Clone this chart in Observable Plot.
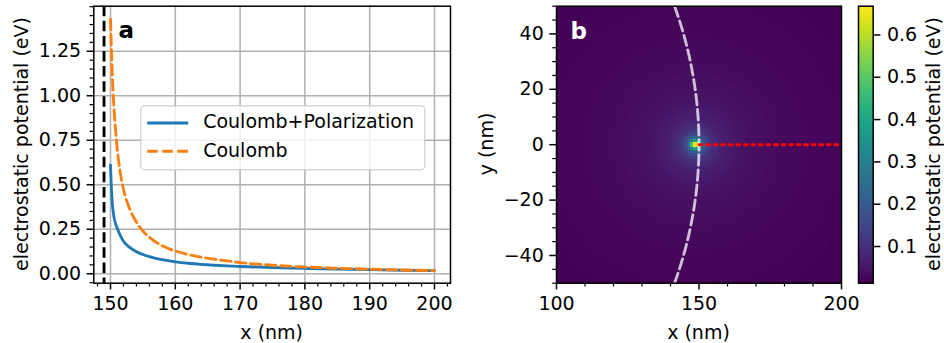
<!DOCTYPE html>
<html><head><meta charset="utf-8">
<script src="https://cdn.jsdelivr.net/npm/d3@7"></script>
<script src="https://cdn.jsdelivr.net/npm/@observablehq/plot@0.6"></script>
<style>
body{margin:0;background:#fff;font-family:"DejaVu Sans",sans-serif;}
#wrap{position:relative;width:944px;height:343px;overflow:hidden;background:#fff;}
#wrap > svg, #wrap > div{position:absolute;}
.lab{position:absolute;font-size:19px;white-space:nowrap;color:#000;line-height:1.16;font-family:"DejaVu Sans";}
</style></head><body><div id="wrap"></div>
<script>
// ---- Panel a: potential along the red line ----
const xPos = [150, 150.1, 150.25, 150.5, 150.75, 151, 151.5, 152, 153, 154, 155, 156, 157, 158, 160, 162, 164, 166, 168, 170, 175, 180, 185, 190, 195, 200];
const coulombPol = [0.61, 0.51, 0.41, 0.325, 0.285, 0.26, 0.215, 0.183, 0.147, 0.124, 0.108, 0.096, 0.086, 0.079, 0.067, 0.059, 0.053, 0.048, 0.044, 0.041, 0.035, 0.03, 0.026, 0.023, 0.02, 0.018];
const coulomb = [1.43, 1.3, 1.14, 0.95, 0.82, 0.715, 0.57, 0.475, 0.36, 0.29, 0.24, 0.205, 0.178, 0.157, 0.128, 0.108, 0.093, 0.082, 0.072, 0.063, 0.048, 0.038, 0.031, 0.026, 0.021, 0.018];
const seriesNames = ["Coulomb+Polarization", "Coulomb"];
const interfaceX = [149];
const xTicksA = [150, 160, 170, 180, 190, 200];
const xMinorA = [148, 152, 154, 156, 158, 162, 164, 166, 168, 172, 174, 176, 178, 182, 184, 186, 188, 192, 194, 196, 198, 202];
const yTicksA = [0, 0.25, 0.5, 0.75, 1.0, 1.25];
const yMinorA = [-0.05, 0.05, 0.1, 0.15, 0.2, 0.3, 0.35, 0.4, 0.45, 0.55, 0.6, 0.65, 0.7, 0.8, 0.85, 0.9, 0.95, 1.05, 1.1, 1.15, 1.2, 1.3, 1.35, 1.4, 1.45, 1.5];

// ---- Panel b: map ----
const arcY = [-50, -45, -40, -35, -30, -25, -20, -15, -10, -5, 0, 5, 10, 15, 20, 25, 30, 35, 40, 45, 50];
const arcX = [141.42, 143.09, 144.57, 145.86, 146.97, 147.90, 148.66, 149.25, 149.67, 149.92, 150, 149.92, 149.67, 149.25, 148.66, 147.90, 146.97, 145.86, 144.57, 143.09, 141.42];
const cutX = [150, 200];
const cutY = [0, 0];
const charge = [148.7, 0];
const mapDist = [0, 0.7, 1.0, 1.3, 1.6, 2, 2.5, 3, 4, 5, 6, 8, 10, 15, 20, 30, 40, 50, 60, 75];
const mapVal = [0.668, 0.665, 0.62, 0.47, 0.36, 0.29, 0.23, 0.19, 0.145, 0.118, 0.1, 0.08, 0.066, 0.048, 0.039, 0.03, 0.025, 0.021, 0.018, 0.015];
const xTicksB = [100, 150, 200];
const xMinorB = [110, 120, 130, 140, 160, 170, 180, 190];
const yTicksB = [-40, -20, 0, 20, 40];
const yMinorB = [-50, -45, -35, -30, -25, -15, -10, -5, 5, 10, 15, 25, 30, 35, 45, 50];

// ---- Colorbar ----
const cbDomain = [0.0133, 0.668];
const cbTicks = [0.1, 0.2, 0.3, 0.4, 0.5, 0.6];

const FONT = "DejaVu Sans";
const baseStyle = {fontFamily: FONT, fontSize: "19px", color: "#000", background: "transparent", overflow: "visible"};
const colorOpts = {type: "linear", scheme: "viridis", domain: cbDomain, clamp: true};
const tk = {tickSize: 6.7, strokeWidth: 1.5, label: null};
const mn = {tickSize: 3.8, strokeWidth: 1.2, label: null, tickFormat: () => ""};

const wrap = document.getElementById("wrap");

const tableA = xPos.map((x, i) => ({x, pol: coulombPol[i], c: coulomb[i]}));
const pa = Plot.plot({
  width: 460, height: 343, marginLeft: 93.3, marginRight: 10, marginTop: 5.7, marginBottom: 60.3,
  style: baseStyle,
  x: {domain: [147.42, 202.47]},
  y: {domain: [-0.053, 1.503]},
  marks: [
    Plot.gridX(xTicksA, {stroke: "#b0b0b0", strokeOpacity: 1, strokeWidth: 1.5}),
    Plot.gridY(yTicksA, {stroke: "#b0b0b0", strokeOpacity: 1, strokeWidth: 1.5}),
    Plot.ruleX(interfaceX, {stroke: "#000", strokeWidth: 2.85, strokeDasharray: "10.5,4.6"}),
    Plot.line(tableA, {x: "x", y: "pol", stroke: "#1f77b4", strokeWidth: 2.85, curve: "monotone-x"}),
    Plot.line(tableA, {x: "x", y: "c", stroke: "#ff7f0e", strokeWidth: 2.85, strokeDasharray: "10.5,4.6", curve: "monotone-x"}),
    Plot.axisX(xTicksA, {...tk, tickPadding: 7}),
    Plot.axisX(xMinorA, mn),
    Plot.axisY(yTicksA, {...tk, tickPadding: 6, tickFormat: ".2f"}),
    Plot.axisY(yMinorA, mn),
    Plot.frame({stroke: "#000", strokeWidth: 1.5}),
    Plot.text(["a"], {frameAnchor: "top-left", dx: 24.7, dy: 24.8, lineAnchor: "middle", fontWeight: "bold", fontSize: 23, fill: "#000"})
  ]
});
pa.style.left = "0px"; pa.style.top = "0px";
wrap.appendChild(pa);

const pot = d3.scaleLinear().domain(mapDist).range(mapVal).clamp(true);
const arcTable = arcY.map((y, i) => ({x: arcX[i], y}));
const cutTable = cutX.map((x, i) => ({x, y: cutY[i]}));
const pb = Plot.plot({
  width: 370, height: 343, marginLeft: 76, marginRight: 9, marginTop: 5.7, marginBottom: 60.3,
  style: baseStyle,
  x: {domain: [100, 200]},
  y: {domain: [-50, 50]},
  color: colorOpts,
  marks: [
    Plot.raster({x1: 100, x2: 200, y1: -50, y2: 50, width: 100, height: 100, imageRendering: "pixelated",
      fill: (x, y) => pot(Math.hypot(x - charge[0], y - charge[1]))}),
    Plot.line(arcTable, {x: "x", y: "y", stroke: "#ffffff", strokeOpacity: 0.75, strokeWidth: 2.85, strokeDasharray: "10.5,4.6", curve: "natural"}),
    Plot.line(cutTable, {x: "x", y: "y", stroke: "#ff0000", strokeWidth: 2.85, strokeDasharray: "2.85,4.7"}),
    Plot.axisX(xTicksB, {...tk, tickPadding: 7}),
    Plot.axisX(xMinorB, mn),
    Plot.axisY(yTicksB, {...tk, tickPadding: 6}),
    Plot.axisY(yMinorB, mn),
    Plot.frame({stroke: "#000", strokeWidth: 1.5}),
    Plot.text(["b"], {frameAnchor: "top-left", dx: 14, dy: 25.3, lineAnchor: "middle", fontWeight: "bold", fontSize: 23, fill: "#fff"})
  ]
});
pb.style.left = "480px"; pb.style.top = "0px";
wrap.appendChild(pb);

const pc = Plot.plot({
  width: 94, height: 343, marginLeft: 8, marginRight: 71.3, marginTop: 5.7, marginBottom: 60.3,
  style: baseStyle,
  x: {domain: [0, 1], axis: null},
  y: {domain: cbDomain},
  color: colorOpts,
  marks: [
    Plot.raster({x1: 0, x2: 1, y1: cbDomain[0], y2: cbDomain[1], width: 1, height: 300, fill: (x, y) => y}),
    Plot.axisY(cbTicks, {...tk, anchor: "right", tickPadding: 7, tickFormat: ".1f"}),
    Plot.frame({stroke: "#000", strokeWidth: 1.5})
  ]
});
pc.style.left = "850px"; pc.style.top = "0px";
wrap.appendChild(pc);

// ---- axis labels ----
function label(text, cx, cy, rotate) {
  const d = document.createElement("div");
  d.className = "lab";
  d.textContent = text;
  d.style.left = cx + "px";
  d.style.top = cy + "px";
  d.style.transform = "translate(-50%,-50%)" + (rotate ? " rotate(-90deg)" : "");
  wrap.appendChild(d);
}
label("electrostatic potential (eV)", 20.5, 144.2, true);
label("x (nm)", 271.7, 331.5, false);
label("y (nm)", 486, 144.2, true);
label("x (nm)", 698.5, 331.5, false);
label("electrostatic potential (eV)", 932.5, 144.2, true);

// ---- legend (panel a) ----
const ns = "http://www.w3.org/2000/svg";
const lg = document.createElementNS(ns, "svg");
lg.setAttribute("width", 288); lg.setAttribute("height", 68);
lg.style.left = "138.5px"; lg.style.top = "103.5px";
lg.style.fontFamily = FONT; lg.style.fontSize = "19px";
const rect = document.createElementNS(ns, "rect");
Object.entries({x: 1.75, y: 1.75, width: 284, height: 64, rx: 4, fill: "#fff", "fill-opacity": 0.8, stroke: "#cccccc", "stroke-opacity": 0.8, "stroke-width": 1.5})
  .forEach(([k, v]) => rect.setAttribute(k, v));
lg.appendChild(rect);
const legendStyles = [{stroke: "#1f77b4", dash: null}, {stroke: "#ff7f0e", dash: "10.5,4.6"}];
seriesNames.forEach((name, i) => {
  const ly = 19 + i * 28.2;
  const ln = document.createElementNS(ns, "line");
  Object.entries({x1: 8.2, x2: 49.2, y1: ly, y2: ly, stroke: legendStyles[i].stroke, "stroke-width": 2.85})
    .forEach(([k, v]) => ln.setAttribute(k, v));
  if (legendStyles[i].dash) ln.setAttribute("stroke-dasharray", legendStyles[i].dash);
  lg.appendChild(ln);
  const t = document.createElementNS(ns, "text");
  t.setAttribute("x", 64.2); t.setAttribute("y", 23.8 + i * 29.3);
  t.textContent = name;
  lg.appendChild(t);
});
wrap.appendChild(lg);
</script></body></html>
